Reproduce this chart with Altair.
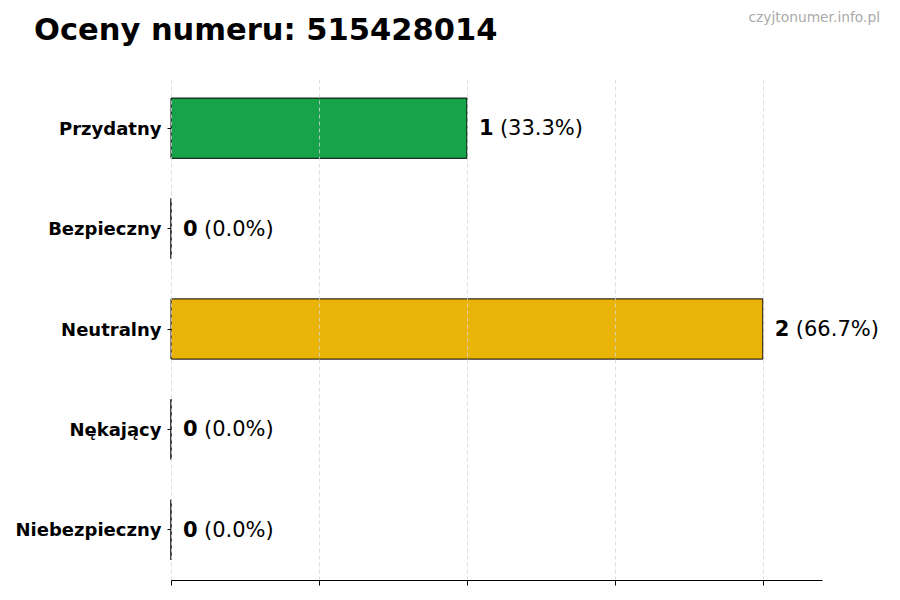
import altair as alt
import pandas as pd

categories = ["Przydatny", "Bezpieczny", "Neutralny", "Nękający", "Niebezpieczny"]
counts = [1, 0, 2, 0, 0]
colors = ["#16a34a", "#22c55e", "#eab308", "#f97316", "#dc2626"]
x_ticks = [0, 0.5, 1, 1.5, 2]
title_text = "Oceny numeru: 515428014"
watermark_text = "czyjtonumer.info.pl"

total = sum(counts)
df = pd.DataFrame({
    "cat": categories,
    "count": counts,
    "color": colors,
    "num": [str(c) for c in counts],
    "pct": [f"({100 * c / total:.1f}%)" for c in counts],
})

FONT = "DejaVu Sans"

y_enc = alt.Y("cat:N", sort=categories, title=None,
              scale=alt.Scale(paddingInner=0.4, paddingOuter=0.2),
              axis=alt.Axis(domain=False, ticks=True, tickSize=4, tickColor="#000",
                            labelPadding=6, labelFont=FONT, labelFontSize=18,
                            labelFontWeight="bold", labelColor="#000", grid=False,
                            labelOffset=1.5))
x_enc = alt.X("count:Q", title=None,
              scale=alt.Scale(domain=[0, 2.2], nice=False, zero=True),
              axis=alt.Axis(values=x_ticks, labels=False, domain=True, domainColor="#000",
                            tickColor="#000", tickSize=5, grid=True, gridColor="#d4d4d4",
                            gridDash=[4, 3], gridWidth=0.8, zindex=1))

bars = alt.Chart(df).mark_bar(stroke="#000", strokeWidth=1).encode(
    y=y_enc, x=x_enc,
    color=alt.Color("color:N", scale=None),
)

num_text = alt.Chart(df).mark_text(align="left", baseline="middle", dx=12, dy=1, font=FONT,
                                   fontSize=21, fontWeight="bold", color="#000").encode(
    y=alt.Y("cat:N", sort=categories), x="count:Q", text="num:N")

pct_text = alt.Chart(df).mark_text(align="left", baseline="middle", dx=33, dy=1, font=FONT,
                                   fontSize=21, color="#000").encode(
    y=alt.Y("cat:N", sort=categories), x="count:Q", text="pct:N")

watermark = alt.Chart(pd.DataFrame({"t": [watermark_text]})).mark_text(
    align="right", baseline="middle", font=FONT, fontSize=13.8, color="#aaaaaa").encode(
    x=alt.value(880 - 171), y=alt.value(18 - 78), text="t:N")

title = alt.Chart(pd.DataFrame({"t": [title_text]})).mark_text(
    align="left", baseline="alphabetic", font=FONT, fontSize=30.5, fontWeight="bold",
    color="#000").encode(
    x=alt.value(34 - 171), y=alt.value(40 - 78), text="t:N")

chart = alt.layer(bars, num_text, pct_text, watermark, title).properties(
    width=651, height=502,
    autosize=alt.AutoSizeParams(type="none"),
    padding={"left": 163, "top": 70, "right": 70, "bottom": 10},
).configure_view(stroke=None)

chart.save("out.html", embed_options={"renderer": "svg", "actions": False})
